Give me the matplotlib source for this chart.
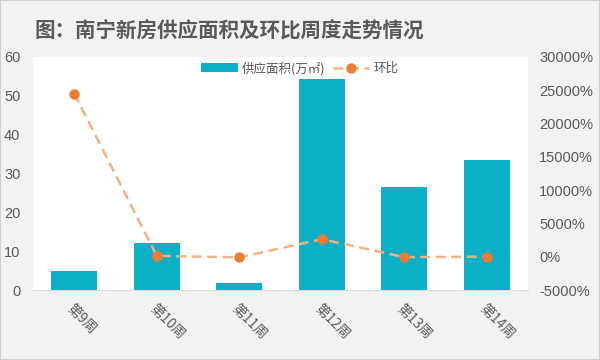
import matplotlib
matplotlib.use("Agg")
import matplotlib.pyplot as plt
import matplotlib.transforms as mtransforms
from matplotlib.patches import Rectangle
from matplotlib.ticker import FuncFormatter

plt.rcParams['font.family'] = ['Noto Sans CJK SC', 'DejaVu Sans']

weeks = ["第9周", "第10周", "第11周", "第12周", "第13周", "第14周"]
supply = [4.9, 12.1, 1.8, 54.4, 26.5, 33.5]
mom_pct = [24500, 145, -85, 2650, -51, 26]

bar_color = "#0BAFC6"
line_color = "#F4B183"
marker_color = "#ED7D31"
text_color = "#595959"
num_font = ['Liberation Sans', 'DejaVu Sans']

fig = plt.figure(figsize=(6, 3.6), dpi=100, facecolor="#F2F2F2")
fig.patches.append(Rectangle((0, 0), 1, 1, transform=fig.transFigure, fill=False,
                             edgecolor="#D0D0D0", linewidth=1.5))
ax = fig.add_axes([0.055, 0.194, 0.825, 0.648])
ax.set_facecolor("white")
x = range(len(weeks))
b = ax.bar(x, supply, width=0.56, color=bar_color, label="供应面积(万㎡)", zorder=2)
ax.set_ylim(0, 60)
ax.set_yticks(range(0, 61, 10))
ax.set_xlim(-0.5, len(weeks) - 0.5)
ax.set_xticks(list(x))
ax.set_xticklabels(weeks, rotation=-45, ha="left", va="top", rotation_mode="anchor",
                   fontsize=10, color=text_color)
offset = mtransforms.ScaledTranslation(-9 / 100, -4 / 100, fig.dpi_scale_trans)
for lab in ax.get_xticklabels():
    lab.set_transform(lab.get_transform() + offset)
for s in ["top", "right", "left"]:
    ax.spines[s].set_visible(False)
ax.spines["bottom"].set_color("#D9D9D9")
ax.tick_params(axis="both", length=0, colors=text_color)
ax.tick_params(axis="x", pad=8)
ax.tick_params(axis="y", pad=9, labelsize=10.5)
for lab in ax.get_yticklabels():
    lab.set_family(num_font)

ax2 = ax.twinx()
l, = ax2.plot(list(x), mom_pct, color=line_color, linestyle=(0, (4, 2.2)), linewidth=1.8,
              marker="o", markersize=6.5, markerfacecolor=marker_color,
              markeredgecolor=marker_color, label="环比", zorder=3)
ax2.set_ylim(-5000, 30000)
ax2.set_yticks(range(-5000, 30001, 5000))
ax2.yaxis.set_major_formatter(FuncFormatter(lambda v, p: f"{int(v)}%"))
for s in ["top", "right", "left", "bottom"]:
    ax2.spines[s].set_visible(False)
ax2.tick_params(axis="y", length=0, labelsize=10.5, colors=text_color, pad=8)
for lab in ax2.get_yticklabels():
    lab.set_family(num_font)

leg = fig.legend([b, l], ["供应面积(万㎡)", "环比"], loc="center",
                 bbox_to_anchor=(0.5, 0.81), ncol=2, frameon=False, fontsize=9,
                 handlelength=2.9, columnspacing=0.6, handletextpad=0.35)
for t in leg.get_texts():
    t.set_color(text_color)

fig.text(0.058, 0.915, "图：南宁新房供应面积及环比周度走势情况", fontsize=14.8,
         fontweight="bold", color=text_color, va="center", ha="left")

fig.savefig("out.png", dpi=100, facecolor=fig.get_facecolor())
